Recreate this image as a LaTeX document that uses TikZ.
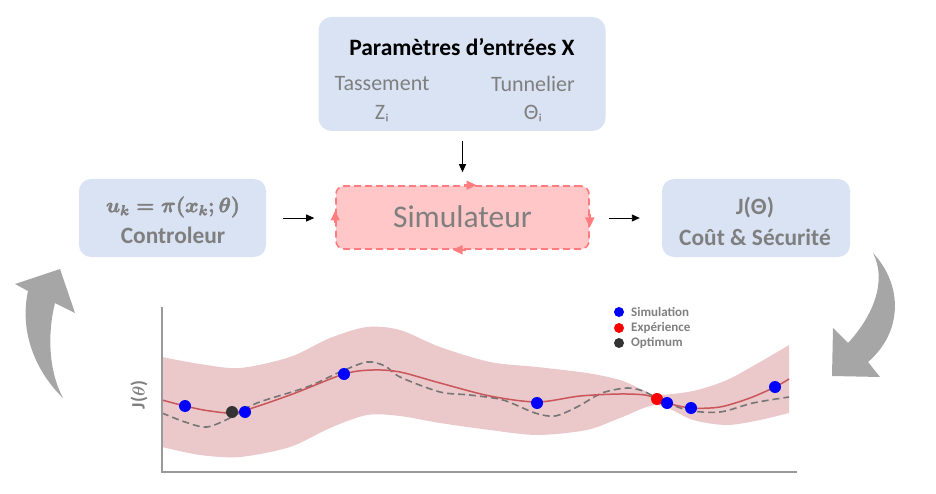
\documentclass[tikz,border=0pt]{standalone}
\usepackage{fontspec}
\usepackage{amsmath,bm}
\setmainfont{Carlito}
\usetikzlibrary{arrows.meta,calc}
\definecolor{boxblue}{HTML}{DAE3F3}
\definecolor{txtgray}{HTML}{7F7F7F}
\definecolor{simfill}{HTML}{FFC7C7}
\definecolor{simline}{HTML}{FF7C80}
\definecolor{bigarrow}{HTML}{A6A6A6}
\definecolor{band}{HTML}{EBC8CA}
\definecolor{meanred}{HTML}{C9565A}
\definecolor{dashgray}{HTML}{767676}
\definecolor{axisgray}{HTML}{9A9A9A}
\newcommand{\heavytext}[1]{\special{pdf:literal direct 2 Tr 0.5 w}#1\special{pdf:literal direct 0 Tr}}
\tikzset{
  bluebox/.style={fill=boxblue, draw=none, rounded corners=13pt, inner sep=0pt},
  simbox/.style={fill=simfill, draw=simline, line width=1.6pt, dash pattern=on 7pt off 4pt, rounded corners=8pt, inner sep=0pt},
  graytxt/.style={text=txtgray, font=\fontsize{22}{24}\selectfont, inner sep=0pt},
  boldgray/.style={text=txtgray, font=\fontsize{23.4}{25}\selectfont\bfseries, inner sep=0pt},
  conn/.style={draw=black, line width=0.9pt, -{Triangle[length=8pt,width=7pt]}},
  simarr/.style={draw=simline, line width=1.6pt, -{Triangle[length=10pt,width=9pt]}},
  dot/.style={circle, inner sep=0pt, minimum size=12pt, draw=none},
  ldot/.style={circle, inner sep=0pt, minimum size=10pt, draw=none},
  legtxt/.style={text=txtgray, font=\fontsize{13}{14}\selectfont\bfseries, anchor=west, inner sep=0pt}
}
\begin{document}
\begin{tikzpicture}[x=1pt,y=-1pt]
\useasboundingbox (0,0) rectangle (936,494);
% boxes
\node[bluebox, minimum width=287pt, minimum height=114pt] (params) at (462,74) {};
\node[inner sep=0pt, font=\fontsize{23.5}{25}\selectfont\bfseries] (ptitle) at (462,47) {Paramètres d’entrées X};
\node[graytxt] (tass) at (382,84) {Tassement};
\node[graytxt] (tunn) at (533,84) {Tunnelier};
\node[graytxt] (zi) at (382,114) {Zᵢ};
\node[graytxt] (thi) at (533,114) {Θᵢ};

\node[bluebox, rounded corners=12pt, minimum width=187pt, minimum height=78pt] (ctrl) at (172.5,218) {};
\node[text=txtgray, inner sep=0pt, font=\fontsize{21}{23}\selectfont\boldmath] (ctrlmath) at (173,207) {\heavytext{$u_k=\pi(x_k;\theta)$}};
\node[boldgray] (ctrltxt) at (173,235) {Controleur};

\node[bluebox, rounded corners=12pt, minimum width=188pt, minimum height=78pt] (cost) at (756,218) {};
\node[boldgray] (jt) at (755,208) {J(Θ)};
\node[boldgray] (costtxt) at (755,237) {Coût \& Sécurité};

\node[simbox, minimum width=253pt, minimum height=63pt] (sim) at (462.5,217.5) {};
\node[text=txtgray, inner sep=0pt, font=\fontsize{31.5}{33}\selectfont] (simtxt) at (462.5,217) {Simulateur};
% small arrows on the simulator border
\draw[simarr] ($(sim.north)+(1,0)$) -- ($(sim.north)+(14,0)$);
\draw[simarr] ($(sim.east)+(0,-3)$) -- ($(sim.east)+(0,10)$);
\draw[simarr] ($(sim.south)+(3,0)$) -- ($(sim.south)+(-10,0)$);
\draw[simarr] ($(sim.west)+(0,6)$) -- ($(sim.west)+(0,-7)$);

% connectors
\draw[conn, shorten <=10pt, shorten >=13pt] (params.south -| sim.north) -- (sim.north);
\draw[conn, shorten <=17pt, shorten >=21pt] (ctrl.east) -- (ctrl.east -| sim.west);
\draw[conn, shorten <=19pt, shorten >=22pt] (sim.east |- cost.west) -- (cost.west);

% big curved arrows
\fill[bigarrow] (63,398) .. controls (36,372) and (19,332) .. (28,291)
  -- (15,284) -- (60,269) -- (75,313) -- (55,303)
  .. controls (47,335) and (49,372) .. (63,398) -- cycle;
\fill[bigarrow] (873,253) .. controls (903,285) and (903,332) .. (868,362)
  -- (880,377) -- (832,376) -- (833,328) -- (848,343)
  .. controls (874,315) and (887,280) .. (873,253) -- cycle;

% chart band
\fill[band] plot[smooth] coordinates {(162,357) (200,364) (240,368) (290,357) (330,338) (367,327) (400,330) (440,347) (490,362) (537,367) (587,373) (620,380) (643,390) (657,395) (693,391) (727,380) (760,362) (789,345)}
  -- plot[smooth] coordinates {(789,413) (760,420) (727,425) (693,420) (657,405) (620,418) (587,430) (537,435) (490,430) (440,423) (400,416) (367,415) (330,428) (290,447) (240,457) (200,455) (162,447)} -- cycle;
% dashed true function
\draw[dashgray, line width=1.6pt, dash pattern=on 7pt off 4pt] plot[smooth] coordinates {(162,413) (185,422) (207,427) (232,417) (257,403) (307,387) (340,372) (367,362) (385,366) (400,377) (440,392) (470,395) (503,400) (535,413) (555,416) (577,407) (602,393) (627,388) (643,391) (657,398) (687,410) (720,412) (753,403) (789,397)};
% mean
\draw[meanred, line width=1.5pt] plot[smooth] coordinates {(162,400) (185,406) (210,411) (238,412) (290,395) (344,374) (373,370) (400,372) (440,383) (490,396) (537,402) (580,396) (620,394) (645,395) (657,399) (667,403) (691,408) (720,407) (750,398) (775,387) (789,379)};
% axes
\draw[axisgray, line width=1.6pt] (162,307) coordinate (ytop) -- (162,472) coordinate (orig) -- (797,472) coordinate (xend);
\node[rotate=90, text=txtgray, inner sep=0pt, font=\fontsize{19}{20}\selectfont\bfseries\boldmath] (ylab) at (139,395) {J($\theta$)};
% points
\node[dot, fill=blue] (p1) at (185,406) {};
\node[dot, fill=black!80] (p2) at (232,412) {};
\node[dot, fill=blue] (p3) at (245,412) {};
\node[dot, fill=blue] (p4) at (344,374) {};
\node[dot, fill=blue] (p5) at (537,403) {};
\node[dot, fill=red] (p6) at (657,399) {};
\node[dot, fill=blue] (p7) at (667,403) {};
\node[dot, fill=blue] (p8) at (691,408) {};
\node[dot, fill=blue] (p9) at (775,387) {};
% legend
\node[ldot, fill=blue] (l1) at (619,312) {};
\node[legtxt] (lt1) at (631,312) {Simulation};
\node[ldot, fill=red] (l2) at (619,328) {};
\node[legtxt] (lt2) at (631,328) {Expérience};
\node[ldot, fill=black!80] (l3) at (619,343) {};
\node[legtxt] (lt3) at (631,343) {Optimum};
\end{tikzpicture}
\end{document}
